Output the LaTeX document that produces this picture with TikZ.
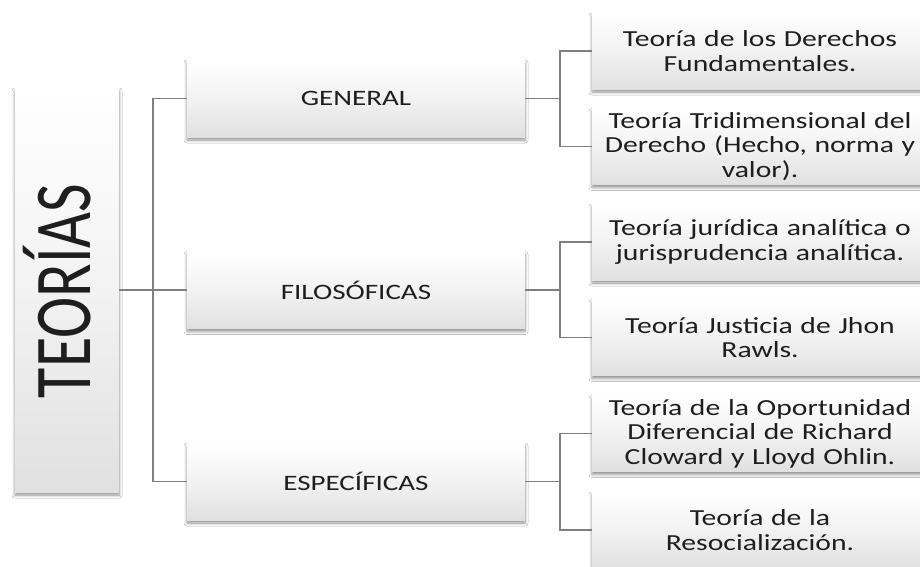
\documentclass[tikz,border=0pt]{standalone}
\usepackage{fontspec}
\setmainfont{Carlito}
\newfontfamily\midfont[FakeStretch=1.32]{Carlito}
\newfontfamily\leaffont[FakeStretch=1.29]{Carlito}
\usetikzlibrary{shadows,shadows.blur}
\definecolor{linegray}{HTML}{7F7F7F}
\definecolor{txt}{HTML}{1E1E1E}
\tikzset{
  gbox/.style={draw=none, top color=white, bottom color=black!12, middle color=white!95!black,
    blur shadow={shadow xshift=0pt, shadow yshift=-3pt, shadow blur steps=6, shadow blur radius=3pt, shadow opacity=45},
    inner sep=2pt, align=center, text=txt},
  midbox/.style={gbox, minimum width=338pt, minimum height=77pt, font=\midfont\fontsize{22}{26}\selectfont},
  leafbox/.style={gbox, minimum width=336pt, minimum height=76pt, text width=332pt, font=\leaffont\fontsize{23}{24.5}\selectfont},
  conn/.style={draw=linegray, line width=1.6pt}
}
\begin{document}
\begin{tikzpicture}[x=1pt,y=-1pt]
\useasboundingbox (0,0) rectangle (920,566);
\fill[white] (0,0) rectangle (920,566);
% root
\node[gbox, minimum width=104pt, minimum height=404pt] (T) at (67,290) {};
\node[text=txt, rotate=90] (Tt) at (57,291) {\scalebox{1}[1.3]{\fontsize{62}{70}\selectfont TEORÍAS}};
% middle
\node[midbox] (G) at (356,98.5) {GENERAL};
\node[midbox] (F) at (356,290) {FILOSÓFICAS};
\node[midbox] (E) at (356,481.5) {ESPECÍFICAS};
% leaves
\node[leafbox] (b1) at (760,51) {Teoría de los Derechos\\Fundamentales.};
\node[leafbox] (b2) at (760,146.5) {Teoría Tridimensional del\\Derecho (Hecho, norma y\\valor).};
\node[leafbox] (b3) at (760,242) {Teoría jurídica analítica o\\jurisprudencia analítica.};
\node[leafbox] (b4) at (760,337.5) {Teoría Justicia de Jhon\\Rawls.};
\node[leafbox] (b5) at (760,433.5) {Teoría de la Oportunidad\\Diferencial de Richard\\Cloward y Lloyd Ohlin.};
\node[leafbox] (b6) at (760,530) {Teoría de la\\Resocialización.};
% junctions
\coordinate (j0) at (153,290);
\coordinate (j1) at (560,98.5);
\coordinate (j2) at (560,290);
\coordinate (j3) at (560,481.5);
% connectors
\draw[conn] (T.east) -- (j0);
\draw[conn] (j0) |- (G.west);
\draw[conn] (j0) |- (F.west);
\draw[conn] (j0) |- (E.west);
\draw[conn] (G.east) -- (j1);
\draw[conn] (j1) |- (b1.west);
\draw[conn] (j1) |- (b2.west);
\draw[conn] (F.east) -- (j2);
\draw[conn] (j2) |- (b3.west);
\draw[conn] (j2) |- (b4.west);
\draw[conn] (E.east) -- (j3);
\draw[conn] (j3) |- (b5.west);
\draw[conn] (j3) |- (b6.west);
\end{tikzpicture}
\end{document}
